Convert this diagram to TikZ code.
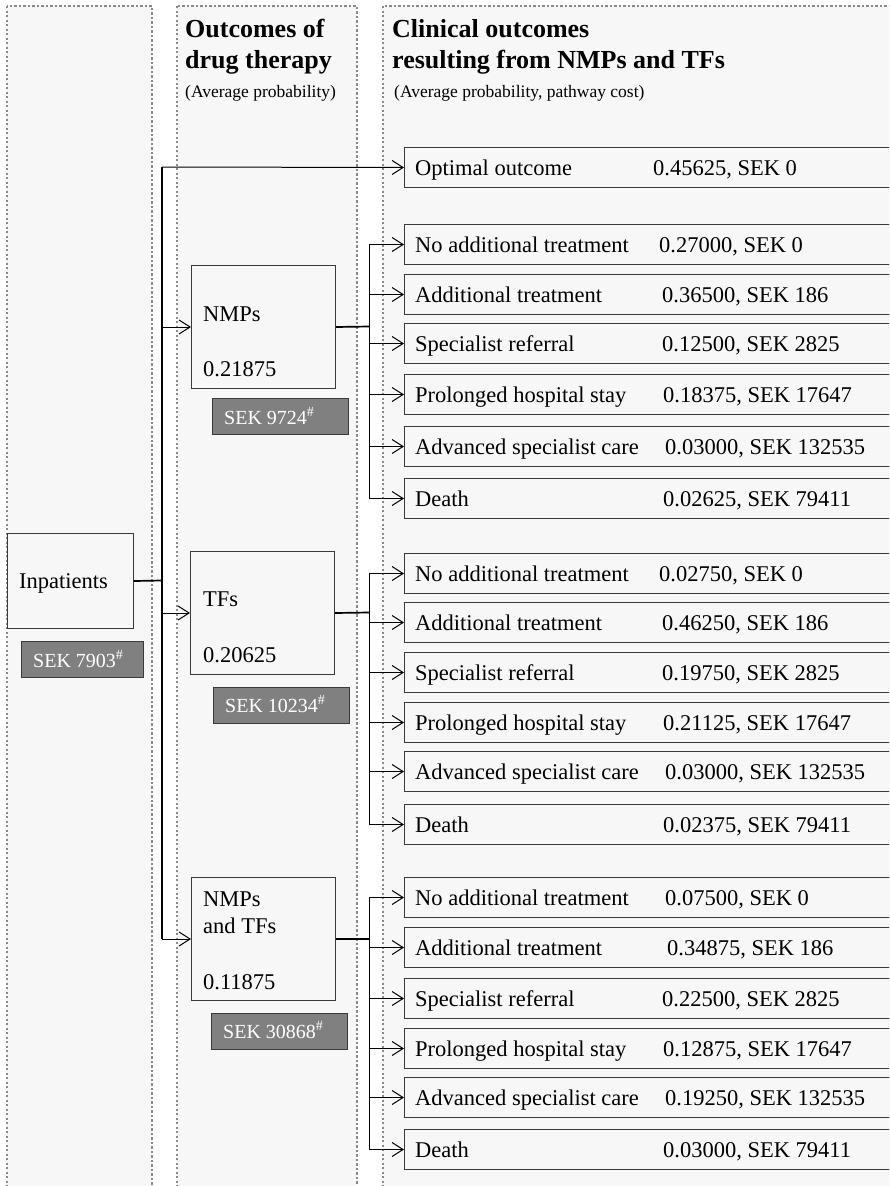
\documentclass[tikz,border=0pt]{standalone}
\usepackage{fontspec}
\setmainfont{Liberation Serif}
\usetikzlibrary{arrows.meta}
\definecolor{colbg}{HTML}{F7F7F7}
\definecolor{dotc}{HTML}{8A8A8A}
\definecolor{boxc}{HTML}{3A3A3A}
\definecolor{sekc}{HTML}{808080}
\newcommand\orow[5]{%
  \node[obox] (#1) at (404,#2) {};
  \node[lbl] (#1l) at (415,#2+28.5) {#3};
  \node[lbl] (#1v) at (#4,#2+28.5) {#5};}
\begin{document}
\begin{tikzpicture}[x=1pt,y=-1pt,
  colbox/.style={fill=colbg, draw=dotc, line width=2.2pt, dash pattern=on 2.3pt off 2.2pt},
  obox/.style={draw=boxc, fill=colbg, line width=1pt, minimum width=520pt, minimum height=40pt, inner sep=0pt, anchor=north west},
  dbox/.style={draw=boxc, fill=colbg, line width=1pt, minimum width=144pt, minimum height=123pt, inner sep=0pt, anchor=north west},
  sekbox/.style={draw=boxc, fill=sekc, line width=1pt, minimum width=136pt, minimum height=36pt, inner sep=0pt, anchor=north west},
  lbl/.style={inner sep=0pt, anchor=base west, font=\fontsize{22.5}{27}\selectfont},
  sek/.style={inner sep=0pt, anchor=base west, text=white, font=\fontsize{20}{24}\selectfont},
  head/.style={inner sep=0pt, anchor=base west, font=\fontsize{26}{31}\selectfont\bfseries},
  sub/.style={inner sep=0pt, anchor=base west, font=\fontsize{17.5}{21}\selectfont},
  arr/.style={line width=1pt, -{Straight Barb[length=11pt,width=14pt,line width=1pt]}},
  trunk/.style={line width=1.7pt},
  link/.style={line width=1pt}]
\useasboundingbox (0,0) rectangle (889,1186);
\clip (0,0) rectangle (889,1186);
% columns
\draw[colbox] (7,6) rectangle (152,1200);
\draw[colbox] (177,6) rectangle (357,1200);
\draw[colbox] (383,6) rectangle (910,1200);
% headings
\node[head] (h2a) at (185,37) {Outcomes of};
\node[head] (h2b) at (185,68) {drug therapy};
\node[sub] (h2c) at (185,97) {(Average probability)};
\node[head] (h3a) at (392,37) {Clinical outcomes};
\node[head] (h3b) at (392,68) {resulting from NMPs and TFs};
\node[sub] (h3c) at (394,97) {(Average probability, pathway cost)};
% inpatients
\node[dbox, minimum width=126pt, minimum height=95pt] (inp) at (7,533) {};
\node[lbl] (inpl) at (19,588) {Inpatients};
\node[sekbox, minimum width=122pt] (s0) at (21,641) {};
\node[sek] (s0t) at (33,667) {SEK 7903\textsuperscript{\#}};
% drug therapy outcome boxes
\node[dbox] (n1) at (191,265) {};
\node[lbl] (n1a) at (203,321) {NMPs};
\node[lbl] (n1b) at (203,376) {0.21875};
\node[sekbox] (s1) at (212,398) {};
\node[sek] (s1t) at (224,424) {SEK 9724\textsuperscript{\#}};
\node[dbox] (n2) at (190,551) {};
\node[lbl] (n2a) at (203,606) {TFs};
\node[lbl] (n2b) at (203,662) {0.20625};
\node[sekbox] (s2) at (213,687) {};
\node[sek] (s2t) at (225,712) {SEK 10234\textsuperscript{\#}};
\node[dbox] (n3) at (191,877) {};
\node[lbl] (n3a) at (203,906) {NMPs};
\node[lbl] (n3c) at (203,933) {and TFs};
\node[lbl] (n3b) at (203,989) {0.11875};
\node[sekbox] (s3) at (211,1013) {};
\node[sek] (s3t) at (223,1038) {SEK 30868\textsuperscript{\#}};
% clinical outcomes
\orow{opt}{147}{Optimal outcome}{653}{0.45625, SEK 0}
\orow{ga}{224}{No additional treatment}{659}{0.27000, SEK 0}
\orow{gb}{274}{Additional treatment}{662}{0.36500, SEK 186}
\orow{gc}{323}{Specialist referral}{662}{0.12500, SEK 2825}
\orow{gd}{374}{Prolonged hospital stay}{663}{0.18375, SEK 17647}
\orow{ge}{426}{Advanced specialist care}{665}{0.03000, SEK 132535}
\orow{gf}{478}{Death}{663}{0.02625, SEK 79411}
\orow{ha}{553}{No additional treatment}{659}{0.02750, SEK 0}
\orow{hb}{602}{Additional treatment}{662}{0.46250, SEK 186}
\orow{hc}{652}{Specialist referral}{662}{0.19750, SEK 2825}
\orow{hd}{702}{Prolonged hospital stay}{663}{0.21125, SEK 17647}
\orow{he}{751}{Advanced specialist care}{665}{0.03000, SEK 132535}
\orow{hf}{804}{Death}{663}{0.02375, SEK 79411}
\orow{ka}{877}{No additional treatment}{665}{0.07500, SEK 0}
\orow{kb}{927}{Additional treatment}{667}{0.34875, SEK 186}
\orow{kc}{978}{Specialist referral}{662}{0.22500, SEK 2825}
\orow{kd}{1028}{Prolonged hospital stay}{663}{0.12875, SEK 17647}
\orow{ke}{1077}{Advanced specialist care}{665}{0.19250, SEK 132535}
\orow{kf}{1129}{Death}{663}{0.03000, SEK 79411}
% trunk
\coordinate (t0) at (162,580.5);
\coordinate (tT) at (162,167);
\coordinate (tB) at (162,939);
\draw[trunk] (inp.east) -- (t0);
\draw[trunk] (tT) -- (tB);
\draw[arr] (tT) -- (opt.west);
\draw[arr] (tT |- n1.west) -- (n1.west);
\draw[arr] (tT |- n2.west) -- (n2.west);
\draw[arr] (tT |- n3.west) -- (n3.west);
% junctions
\coordinate (j1) at (369,326.5);
\coordinate (j2) at (369,612.5);
\coordinate (j3) at (369,939);
\draw[trunk] (n1.east) -- (j1);
\draw[trunk] (n2.east) -- (j2);
\draw[trunk] (n3.east) -- (j3);
\draw[link] (j1 |- ga.west) -- (j1 |- gf.west);
\draw[link] (j2 |- ha.west) -- (j2 |- hf.west);
\draw[link] (j3 |- ka.west) -- (j3 |- kf.west);
\foreach \r in {a,b,c,d,e,f}{
  \draw[arr] (j1 |- g\r.west) -- (g\r.west);
  \draw[arr] (j2 |- h\r.west) -- (h\r.west);
  \draw[arr] (j3 |- k\r.west) -- (k\r.west);
}
\end{tikzpicture}
\end{document}
